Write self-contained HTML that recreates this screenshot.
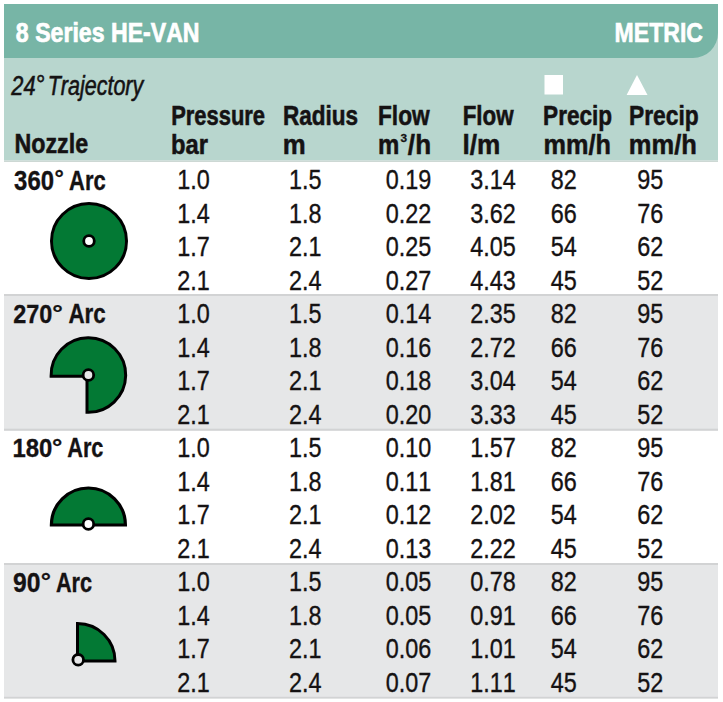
<!DOCTYPE html>
<html><head><meta charset="utf-8"><style>
html,body{margin:0;padding:0;background:#fff;width:723px;height:702px;overflow:hidden}
svg{display:block}
text{font-family:"Liberation Sans",sans-serif;font-kerning:none}
</style></head><body>
<svg width="723" height="702" viewBox="0 0 723 702">
<rect x="4" y="4" width="714" height="156.6" fill="#b8d6ce"/>
<rect x="4" y="160.6" width="714" height="1.4" fill="#cdd8d4"/>
<path d="M4 4 H718 V33 A25 25 0 0 1 693 58 H4 Z" fill="#77b5a6"/>
<rect x="4" y="294" width="714" height="136.7" fill="#e6e7e8"/>
<rect x="4" y="294" width="714" height="2" fill="#d2d3d4"/>
<rect x="4" y="428.7" width="714" height="2" fill="#d2d3d4"/>
<rect x="4" y="563" width="714" height="135.5" fill="#e6e7e8"/>
<rect x="4" y="563" width="714" height="2" fill="#d2d3d4"/>
<rect x="4" y="696.8" width="714" height="1.7" fill="#d2d3d4"/>
<text transform="translate(15.87 41.90) scale(0.8508 1)" font-size="27.18" font-weight="bold" font-style="normal" fill="#ffffff" stroke="#ffffff" stroke-width="0.705">8 Series HE-VAN</text>
<text transform="translate(614.61 41.95) scale(0.8134 1)" font-size="28.34" font-weight="bold" font-style="normal" fill="#ffffff" stroke="#ffffff" stroke-width="0.615">METRIC</text>
<text transform="translate(11.35 94.98) scale(0.7947 1)" font-size="27.43" font-weight="normal" font-style="italic" fill="#151213" stroke="#151213" stroke-width="0.566">24</text>
<text transform="translate(35.32 92.66) scale(0.9216 1)" font-size="24.97" font-weight="normal" font-style="italic" fill="#151213" stroke="#151213" stroke-width="0.488">°</text>
<text transform="translate(47.69 94.98) scale(0.7568 1)" font-size="28.42" font-weight="normal" font-style="italic" fill="#151213" stroke="#151213" stroke-width="0.595">Trajectory</text>
<rect x="544.5" y="75" width="18.5" height="19.5" fill="#fff"/>
<path d="M626.6 95 L637 75 L647.5 95 Z" fill="#fff"/>
<text transform="translate(14.47 153.18) scale(0.8539 1)" font-size="27.25" font-weight="bold" font-style="normal" fill="#151213" stroke="#151213" stroke-width="0.527">Nozzle</text>
<text transform="translate(171.16 124.58) scale(0.7886 1)" font-size="27.83" font-weight="bold" font-style="normal" fill="#151213" stroke="#151213" stroke-width="0.571">Pressure</text>
<text transform="translate(171.06 153.78) scale(0.8536 1)" font-size="27.83" font-weight="bold" font-style="normal" fill="#151213" stroke="#151213" stroke-width="0.527">bar</text>
<text transform="translate(283.02 124.58) scale(0.8102 1)" font-size="27.83" font-weight="bold" font-style="normal" fill="#151213" stroke="#151213" stroke-width="0.555">Radius</text>
<text transform="translate(282.82 153.78) scale(0.9274 1)" font-size="27.83" font-weight="bold" font-style="normal" fill="#151213" stroke="#151213" stroke-width="0.485">m</text>
<text transform="translate(378.01 124.58) scale(0.8160 1)" font-size="27.83" font-weight="bold" font-style="normal" fill="#151213" stroke="#151213" stroke-width="0.551">Flow</text>
<text transform="translate(377.94 153.78) scale(0.8613 1)" font-size="27.83" font-weight="bold" font-style="normal" fill="#151213" stroke="#151213" stroke-width="0.522">m</text>
<text transform="translate(400.48 142.42) scale(1.0270 1)" font-size="11.56" font-weight="bold" font-style="normal" fill="#151213" stroke="#151213" stroke-width="0.292">3</text>
<text transform="translate(407.87 153.78) scale(0.9390 1)" font-size="27.83" font-weight="bold" font-style="normal" fill="#151213" stroke="#151213" stroke-width="0.479">/h</text>
<text transform="translate(462.73 124.58) scale(0.8030 1)" font-size="27.83" font-weight="bold" font-style="normal" fill="#151213" stroke="#151213" stroke-width="0.560">Flow</text>
<text transform="translate(462.39 153.78) scale(0.9426 1)" font-size="27.83" font-weight="bold" font-style="normal" fill="#151213" stroke="#151213" stroke-width="0.477">l/m</text>
<text transform="translate(543.11 124.58) scale(0.8119 1)" font-size="27.83" font-weight="bold" font-style="normal" fill="#151213" stroke="#151213" stroke-width="0.554">Precip</text>
<text transform="translate(543.56 153.78) scale(0.9091 1)" font-size="27.83" font-weight="bold" font-style="normal" fill="#151213" stroke="#151213" stroke-width="0.495">mm/h</text>
<text transform="translate(629.00 124.58) scale(0.8192 1)" font-size="27.83" font-weight="bold" font-style="normal" fill="#151213" stroke="#151213" stroke-width="0.549">Precip</text>
<text transform="translate(628.84 153.78) scale(0.9176 1)" font-size="27.83" font-weight="bold" font-style="normal" fill="#151213" stroke="#151213" stroke-width="0.490">mm/h</text>
<text transform="translate(14.10 189.55) scale(0.8842 1)" font-size="27.07" font-weight="bold" font-style="normal" fill="#151213" stroke="#151213" stroke-width="0.339">360</text>
<text transform="translate(54.53 186.30) scale(1.0709 1)" font-size="21.78" font-weight="bold" font-style="normal" fill="#151213" stroke="#151213" stroke-width="0.280">°</text>
<text transform="translate(69.10 189.55) scale(0.7988 1)" font-size="27.47" font-weight="bold" font-style="normal" fill="#151213" stroke="#151213" stroke-width="0.376">Arc</text>
<text transform="translate(13.14 323.45) scale(0.8862 1)" font-size="26.50" font-weight="bold" font-style="normal" fill="#151213" stroke="#151213" stroke-width="0.339">270</text>
<text transform="translate(52.18 320.60) scale(1.2175 1)" font-size="21.78" font-weight="bold" font-style="normal" fill="#151213" stroke="#151213" stroke-width="0.246">°</text>
<text transform="translate(68.39 323.45) scale(0.8322 1)" font-size="26.89" font-weight="bold" font-style="normal" fill="#151213" stroke="#151213" stroke-width="0.361">Arc</text>
<text transform="translate(12.44 457.45) scale(0.9023 1)" font-size="26.50" font-weight="bold" font-style="normal" fill="#151213" stroke="#151213" stroke-width="0.332">180</text>
<text transform="translate(52.01 454.60) scale(1.1882 1)" font-size="21.78" font-weight="bold" font-style="normal" fill="#151213" stroke="#151213" stroke-width="0.252">°</text>
<text transform="translate(67.21 457.45) scale(0.8091 1)" font-size="26.89" font-weight="bold" font-style="normal" fill="#151213" stroke="#151213" stroke-width="0.371">Arc</text>
<text transform="translate(13.09 592.45) scale(0.9172 1)" font-size="26.92" font-weight="bold" font-style="normal" fill="#151213" stroke="#151213" stroke-width="0.327">90</text>
<text transform="translate(40.83 589.30) scale(1.1735 1)" font-size="21.78" font-weight="bold" font-style="normal" fill="#151213" stroke="#151213" stroke-width="0.256">°</text>
<text transform="translate(55.91 592.45) scale(0.7939 1)" font-size="27.33" font-weight="bold" font-style="normal" fill="#151213" stroke="#151213" stroke-width="0.378">Arc</text>
<text transform="translate(177.33 189.00) scale(0.87 1)" font-size="26.89" fill="#151213" stroke="#151213" stroke-width="0.35">1.0</text>
<text transform="translate(289.03 189.00) scale(0.87 1)" font-size="26.89" fill="#151213" stroke="#151213" stroke-width="0.35">1.5</text>
<text transform="translate(385.63 189.00) scale(0.87 1)" font-size="26.89" fill="#151213" stroke="#151213" stroke-width="0.35">0.19</text>
<text transform="translate(470.23 189.00) scale(0.87 1)" font-size="26.89" fill="#151213" stroke="#151213" stroke-width="0.35">3.14</text>
<text transform="translate(550.63 189.00) scale(0.87 1)" font-size="26.89" fill="#151213" stroke="#151213" stroke-width="0.35">82</text>
<text transform="translate(637.23 189.00) scale(0.87 1)" font-size="26.89" fill="#151213" stroke="#151213" stroke-width="0.35">95</text>
<text transform="translate(177.33 222.53) scale(0.87 1)" font-size="26.89" fill="#151213" stroke="#151213" stroke-width="0.35">1.4</text>
<text transform="translate(289.03 222.53) scale(0.87 1)" font-size="26.89" fill="#151213" stroke="#151213" stroke-width="0.35">1.8</text>
<text transform="translate(385.63 222.53) scale(0.87 1)" font-size="26.89" fill="#151213" stroke="#151213" stroke-width="0.35">0.22</text>
<text transform="translate(470.23 222.53) scale(0.87 1)" font-size="26.89" fill="#151213" stroke="#151213" stroke-width="0.35">3.62</text>
<text transform="translate(550.63 222.53) scale(0.87 1)" font-size="26.89" fill="#151213" stroke="#151213" stroke-width="0.35">66</text>
<text transform="translate(637.23 222.53) scale(0.87 1)" font-size="26.89" fill="#151213" stroke="#151213" stroke-width="0.35">76</text>
<text transform="translate(177.33 256.06) scale(0.87 1)" font-size="26.89" fill="#151213" stroke="#151213" stroke-width="0.35">1.7</text>
<text transform="translate(289.03 256.06) scale(0.87 1)" font-size="26.89" fill="#151213" stroke="#151213" stroke-width="0.35">2.1</text>
<text transform="translate(385.63 256.06) scale(0.87 1)" font-size="26.89" fill="#151213" stroke="#151213" stroke-width="0.35">0.25</text>
<text transform="translate(470.23 256.06) scale(0.87 1)" font-size="26.89" fill="#151213" stroke="#151213" stroke-width="0.35">4.05</text>
<text transform="translate(550.63 256.06) scale(0.87 1)" font-size="26.89" fill="#151213" stroke="#151213" stroke-width="0.35">54</text>
<text transform="translate(637.23 256.06) scale(0.87 1)" font-size="26.89" fill="#151213" stroke="#151213" stroke-width="0.35">62</text>
<text transform="translate(177.33 289.59) scale(0.87 1)" font-size="26.89" fill="#151213" stroke="#151213" stroke-width="0.35">2.1</text>
<text transform="translate(289.03 289.59) scale(0.87 1)" font-size="26.89" fill="#151213" stroke="#151213" stroke-width="0.35">2.4</text>
<text transform="translate(385.63 289.59) scale(0.87 1)" font-size="26.89" fill="#151213" stroke="#151213" stroke-width="0.35">0.27</text>
<text transform="translate(470.23 289.59) scale(0.87 1)" font-size="26.89" fill="#151213" stroke="#151213" stroke-width="0.35">4.43</text>
<text transform="translate(550.63 289.59) scale(0.87 1)" font-size="26.89" fill="#151213" stroke="#151213" stroke-width="0.35">45</text>
<text transform="translate(637.23 289.59) scale(0.87 1)" font-size="26.89" fill="#151213" stroke="#151213" stroke-width="0.35">52</text>
<text transform="translate(177.33 323.12) scale(0.87 1)" font-size="26.89" fill="#151213" stroke="#151213" stroke-width="0.35">1.0</text>
<text transform="translate(289.03 323.12) scale(0.87 1)" font-size="26.89" fill="#151213" stroke="#151213" stroke-width="0.35">1.5</text>
<text transform="translate(385.63 323.12) scale(0.87 1)" font-size="26.89" fill="#151213" stroke="#151213" stroke-width="0.35">0.14</text>
<text transform="translate(470.23 323.12) scale(0.87 1)" font-size="26.89" fill="#151213" stroke="#151213" stroke-width="0.35">2.35</text>
<text transform="translate(550.63 323.12) scale(0.87 1)" font-size="26.89" fill="#151213" stroke="#151213" stroke-width="0.35">82</text>
<text transform="translate(637.23 323.12) scale(0.87 1)" font-size="26.89" fill="#151213" stroke="#151213" stroke-width="0.35">95</text>
<text transform="translate(177.33 356.65) scale(0.87 1)" font-size="26.89" fill="#151213" stroke="#151213" stroke-width="0.35">1.4</text>
<text transform="translate(289.03 356.65) scale(0.87 1)" font-size="26.89" fill="#151213" stroke="#151213" stroke-width="0.35">1.8</text>
<text transform="translate(385.63 356.65) scale(0.87 1)" font-size="26.89" fill="#151213" stroke="#151213" stroke-width="0.35">0.16</text>
<text transform="translate(470.23 356.65) scale(0.87 1)" font-size="26.89" fill="#151213" stroke="#151213" stroke-width="0.35">2.72</text>
<text transform="translate(550.63 356.65) scale(0.87 1)" font-size="26.89" fill="#151213" stroke="#151213" stroke-width="0.35">66</text>
<text transform="translate(637.23 356.65) scale(0.87 1)" font-size="26.89" fill="#151213" stroke="#151213" stroke-width="0.35">76</text>
<text transform="translate(177.33 390.18) scale(0.87 1)" font-size="26.89" fill="#151213" stroke="#151213" stroke-width="0.35">1.7</text>
<text transform="translate(289.03 390.18) scale(0.87 1)" font-size="26.89" fill="#151213" stroke="#151213" stroke-width="0.35">2.1</text>
<text transform="translate(385.63 390.18) scale(0.87 1)" font-size="26.89" fill="#151213" stroke="#151213" stroke-width="0.35">0.18</text>
<text transform="translate(470.23 390.18) scale(0.87 1)" font-size="26.89" fill="#151213" stroke="#151213" stroke-width="0.35">3.04</text>
<text transform="translate(550.63 390.18) scale(0.87 1)" font-size="26.89" fill="#151213" stroke="#151213" stroke-width="0.35">54</text>
<text transform="translate(637.23 390.18) scale(0.87 1)" font-size="26.89" fill="#151213" stroke="#151213" stroke-width="0.35">62</text>
<text transform="translate(177.33 423.71) scale(0.87 1)" font-size="26.89" fill="#151213" stroke="#151213" stroke-width="0.35">2.1</text>
<text transform="translate(289.03 423.71) scale(0.87 1)" font-size="26.89" fill="#151213" stroke="#151213" stroke-width="0.35">2.4</text>
<text transform="translate(385.63 423.71) scale(0.87 1)" font-size="26.89" fill="#151213" stroke="#151213" stroke-width="0.35">0.20</text>
<text transform="translate(470.23 423.71) scale(0.87 1)" font-size="26.89" fill="#151213" stroke="#151213" stroke-width="0.35">3.33</text>
<text transform="translate(550.63 423.71) scale(0.87 1)" font-size="26.89" fill="#151213" stroke="#151213" stroke-width="0.35">45</text>
<text transform="translate(637.23 423.71) scale(0.87 1)" font-size="26.89" fill="#151213" stroke="#151213" stroke-width="0.35">52</text>
<text transform="translate(177.33 457.24) scale(0.87 1)" font-size="26.89" fill="#151213" stroke="#151213" stroke-width="0.35">1.0</text>
<text transform="translate(289.03 457.24) scale(0.87 1)" font-size="26.89" fill="#151213" stroke="#151213" stroke-width="0.35">1.5</text>
<text transform="translate(385.63 457.24) scale(0.87 1)" font-size="26.89" fill="#151213" stroke="#151213" stroke-width="0.35">0.10</text>
<text transform="translate(470.23 457.24) scale(0.87 1)" font-size="26.89" fill="#151213" stroke="#151213" stroke-width="0.35">1.57</text>
<text transform="translate(550.63 457.24) scale(0.87 1)" font-size="26.89" fill="#151213" stroke="#151213" stroke-width="0.35">82</text>
<text transform="translate(637.23 457.24) scale(0.87 1)" font-size="26.89" fill="#151213" stroke="#151213" stroke-width="0.35">95</text>
<text transform="translate(177.33 490.77) scale(0.87 1)" font-size="26.89" fill="#151213" stroke="#151213" stroke-width="0.35">1.4</text>
<text transform="translate(289.03 490.77) scale(0.87 1)" font-size="26.89" fill="#151213" stroke="#151213" stroke-width="0.35">1.8</text>
<text transform="translate(385.63 490.77) scale(0.87 1)" font-size="26.89" fill="#151213" stroke="#151213" stroke-width="0.35">0.11</text>
<text transform="translate(470.23 490.77) scale(0.87 1)" font-size="26.89" fill="#151213" stroke="#151213" stroke-width="0.35">1.81</text>
<text transform="translate(550.63 490.77) scale(0.87 1)" font-size="26.89" fill="#151213" stroke="#151213" stroke-width="0.35">66</text>
<text transform="translate(637.23 490.77) scale(0.87 1)" font-size="26.89" fill="#151213" stroke="#151213" stroke-width="0.35">76</text>
<text transform="translate(177.33 524.30) scale(0.87 1)" font-size="26.89" fill="#151213" stroke="#151213" stroke-width="0.35">1.7</text>
<text transform="translate(289.03 524.30) scale(0.87 1)" font-size="26.89" fill="#151213" stroke="#151213" stroke-width="0.35">2.1</text>
<text transform="translate(385.63 524.30) scale(0.87 1)" font-size="26.89" fill="#151213" stroke="#151213" stroke-width="0.35">0.12</text>
<text transform="translate(470.23 524.30) scale(0.87 1)" font-size="26.89" fill="#151213" stroke="#151213" stroke-width="0.35">2.02</text>
<text transform="translate(550.63 524.30) scale(0.87 1)" font-size="26.89" fill="#151213" stroke="#151213" stroke-width="0.35">54</text>
<text transform="translate(637.23 524.30) scale(0.87 1)" font-size="26.89" fill="#151213" stroke="#151213" stroke-width="0.35">62</text>
<text transform="translate(177.33 557.83) scale(0.87 1)" font-size="26.89" fill="#151213" stroke="#151213" stroke-width="0.35">2.1</text>
<text transform="translate(289.03 557.83) scale(0.87 1)" font-size="26.89" fill="#151213" stroke="#151213" stroke-width="0.35">2.4</text>
<text transform="translate(385.63 557.83) scale(0.87 1)" font-size="26.89" fill="#151213" stroke="#151213" stroke-width="0.35">0.13</text>
<text transform="translate(470.23 557.83) scale(0.87 1)" font-size="26.89" fill="#151213" stroke="#151213" stroke-width="0.35">2.22</text>
<text transform="translate(550.63 557.83) scale(0.87 1)" font-size="26.89" fill="#151213" stroke="#151213" stroke-width="0.35">45</text>
<text transform="translate(637.23 557.83) scale(0.87 1)" font-size="26.89" fill="#151213" stroke="#151213" stroke-width="0.35">52</text>
<text transform="translate(177.33 591.36) scale(0.87 1)" font-size="26.89" fill="#151213" stroke="#151213" stroke-width="0.35">1.0</text>
<text transform="translate(289.03 591.36) scale(0.87 1)" font-size="26.89" fill="#151213" stroke="#151213" stroke-width="0.35">1.5</text>
<text transform="translate(385.63 591.36) scale(0.87 1)" font-size="26.89" fill="#151213" stroke="#151213" stroke-width="0.35">0.05</text>
<text transform="translate(470.23 591.36) scale(0.87 1)" font-size="26.89" fill="#151213" stroke="#151213" stroke-width="0.35">0.78</text>
<text transform="translate(550.63 591.36) scale(0.87 1)" font-size="26.89" fill="#151213" stroke="#151213" stroke-width="0.35">82</text>
<text transform="translate(637.23 591.36) scale(0.87 1)" font-size="26.89" fill="#151213" stroke="#151213" stroke-width="0.35">95</text>
<text transform="translate(177.33 624.89) scale(0.87 1)" font-size="26.89" fill="#151213" stroke="#151213" stroke-width="0.35">1.4</text>
<text transform="translate(289.03 624.89) scale(0.87 1)" font-size="26.89" fill="#151213" stroke="#151213" stroke-width="0.35">1.8</text>
<text transform="translate(385.63 624.89) scale(0.87 1)" font-size="26.89" fill="#151213" stroke="#151213" stroke-width="0.35">0.05</text>
<text transform="translate(470.23 624.89) scale(0.87 1)" font-size="26.89" fill="#151213" stroke="#151213" stroke-width="0.35">0.91</text>
<text transform="translate(550.63 624.89) scale(0.87 1)" font-size="26.89" fill="#151213" stroke="#151213" stroke-width="0.35">66</text>
<text transform="translate(637.23 624.89) scale(0.87 1)" font-size="26.89" fill="#151213" stroke="#151213" stroke-width="0.35">76</text>
<text transform="translate(177.33 658.42) scale(0.87 1)" font-size="26.89" fill="#151213" stroke="#151213" stroke-width="0.35">1.7</text>
<text transform="translate(289.03 658.42) scale(0.87 1)" font-size="26.89" fill="#151213" stroke="#151213" stroke-width="0.35">2.1</text>
<text transform="translate(385.63 658.42) scale(0.87 1)" font-size="26.89" fill="#151213" stroke="#151213" stroke-width="0.35">0.06</text>
<text transform="translate(470.23 658.42) scale(0.87 1)" font-size="26.89" fill="#151213" stroke="#151213" stroke-width="0.35">1.01</text>
<text transform="translate(550.63 658.42) scale(0.87 1)" font-size="26.89" fill="#151213" stroke="#151213" stroke-width="0.35">54</text>
<text transform="translate(637.23 658.42) scale(0.87 1)" font-size="26.89" fill="#151213" stroke="#151213" stroke-width="0.35">62</text>
<text transform="translate(177.33 691.95) scale(0.87 1)" font-size="26.89" fill="#151213" stroke="#151213" stroke-width="0.35">2.1</text>
<text transform="translate(289.03 691.95) scale(0.87 1)" font-size="26.89" fill="#151213" stroke="#151213" stroke-width="0.35">2.4</text>
<text transform="translate(385.63 691.95) scale(0.87 1)" font-size="26.89" fill="#151213" stroke="#151213" stroke-width="0.35">0.07</text>
<text transform="translate(470.23 691.95) scale(0.87 1)" font-size="26.89" fill="#151213" stroke="#151213" stroke-width="0.35">1.11</text>
<text transform="translate(550.63 691.95) scale(0.87 1)" font-size="26.89" fill="#151213" stroke="#151213" stroke-width="0.35">45</text>
<text transform="translate(637.23 691.95) scale(0.87 1)" font-size="26.89" fill="#151213" stroke="#151213" stroke-width="0.35">52</text>
<circle cx="89" cy="241" r="37.5" fill="#037934" stroke="#000" stroke-width="3"/>
<circle cx="89" cy="241" r="5.3" fill="#fff" stroke="#000" stroke-width="2.8"/>
<path d="M51.10 376.2 A37.3 37.3 0 1 1 87.0 412.30 V376.2 Z" fill="#037934" stroke="#000" stroke-width="3" stroke-linejoin="miter"/>
<circle cx="88.4" cy="375" r="5.3" fill="#e6e7e8" stroke="#000" stroke-width="2.8"/>
<path d="M51.40 525 A37.0 37.0 0 0 1 125.40 525 Z" fill="#037934" stroke="#000" stroke-width="3.2"/>
<circle cx="88.4" cy="524" r="5.3" fill="#fff" stroke="#000" stroke-width="2.8"/>
<path d="M77.5 661 V623.5 A37.5 37.5 0 0 1 115.0 661 Z" fill="#037934" stroke="#000" stroke-width="3"/>
<circle cx="78.2" cy="659.8" r="5.3" fill="#e6e7e8" stroke="#000" stroke-width="2.8"/>
</svg>
</body></html>
